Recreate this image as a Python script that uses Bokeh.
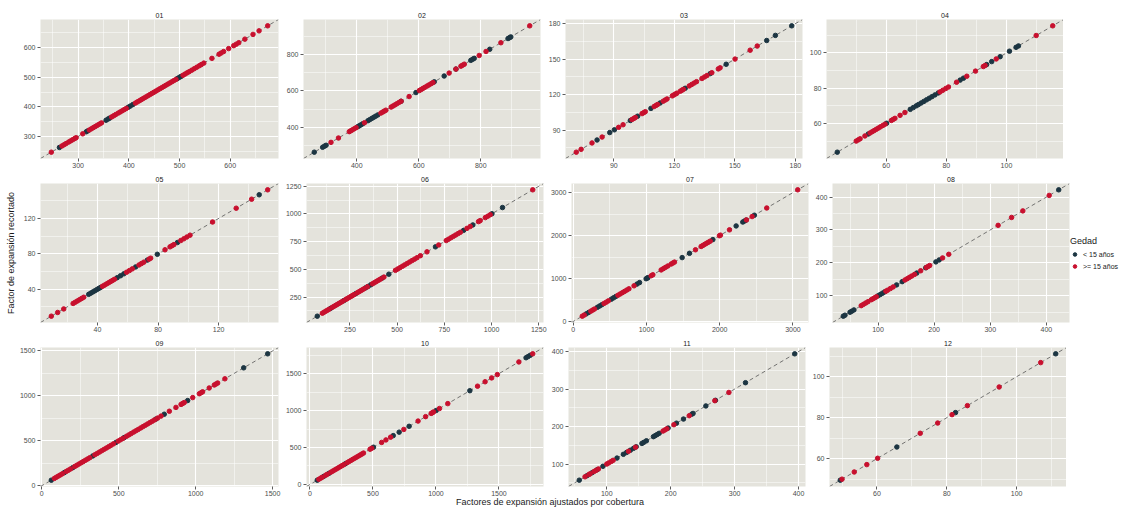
from bokeh.plotting import figure
from bokeh.models import Range1d, FixedTicker, Slope, Legend, LegendItem, Div
from bokeh.layouts import column, row
from bokeh.embed import file_html
from bokeh.resources import INLINE

# ---------------- data ----------------
panel_names = ["01", "02", "03", "04", "05", "06", "07", "08", "09", "10", "11", "12"]
group_labels = ["< 15 años", ">= 15 años"]
legend_title = "Gedad"
x_title = "Factores de expansión ajustados por cobertura"
y_title = "Factor de expansión recortado"

menor01 = [263, 316, 319, 355, 359, 362, 399, 403, 408, 496, 500, 503]
mayor01 = [247, 268, 272, 276, 281, 285, 289, 293, 296, 309, 322, 326, 330, 334, 338, 342, 346,
           366, 370, 374, 379, 383, 387, 391, 395, 413, 417, 421, 425, 429, 433, 437, 441, 445,
           449, 453, 457, 461, 465, 469, 473, 477, 481, 485, 489, 493, 507, 511, 515, 519, 524,
           529, 534, 539, 543, 548, 564, 578, 582, 587, 597, 607, 612, 617, 629, 645, 657, 674]
menor02 = [263, 290, 296, 301, 403, 408, 413, 419, 436, 442, 449, 455, 461, 468, 543, 591, 650,
           682, 720, 768, 774, 779, 829, 888, 893, 897]
mayor02 = [317, 341, 376, 381, 386, 392, 398, 425, 478, 484, 489, 494, 511, 517, 523, 529, 536,
           543, 569, 602, 608, 614, 620, 627, 633, 640, 646, 698, 720, 736, 741, 747, 795, 817,
           865, 958]
menor03 = [81.7, 88.0, 90.3, 98.2, 101.8, 108.4, 113.0, 125.4, 137.8, 145.7, 165.8, 170.1, 178.2]
mayor03 = [71.4, 73.8, 79.2, 84.2, 92.4, 94.6, 99.0, 99.9, 100.7, 104.0, 104.8, 105.6, 110.0,
           110.9, 111.7, 114.5, 115.5, 116.4, 119.0, 119.8, 120.6, 121.3, 123.0, 123.8, 124.5,
           127.4, 128.6, 129.8, 131.0, 133.7, 135.0, 136.2, 138.6, 141.8, 142.7, 150.1, 157.6, 161.1]
menor04 = [43.7, 54.0, 60.1, 68.0, 69.0, 70.0, 70.7, 71.6, 72.5, 73.4, 74.3, 75.2, 76.2, 77.3,
           84.6, 85.7, 93.4, 95.1, 97.9, 101.0, 103.2, 104.0]
mayor04 = [50.0, 50.7, 51.3, 52.9, 54.6, 55.3, 56.0, 56.7, 57.4, 58.1, 58.9, 59.6, 61.7, 62.3,
           62.9, 64.6, 66.2, 77.9, 78.8, 79.8, 80.7, 83.4, 86.8, 89.7, 92.3, 92.9, 96.6, 109.9, 115.4]
menor05 = [34.2, 35.5, 36.8, 38.1, 39.4, 40.7, 42.0, 53.0, 55.2, 57.4, 65.2, 72.9, 79.5, 92.8, 146.8]
mayor05 = [9.5, 13.7, 17.7, 23.9, 25.3, 26.7, 28.1, 29.5, 30.9, 43.3, 44.6, 46.0, 47.3, 48.6,
           49.9, 51.2, 59.2, 61.1, 63.0, 67.4, 69.0, 70.6, 74.0, 75.1, 84.6, 87.9, 89.2, 90.5,
           95.0, 97.0, 99.0, 101.1, 116.0, 131.6, 141.8, 152.4]
menor06 = [77, 148, 218, 280, 333, 346, 360, 421, 456, 703, 852, 901, 1002, 1058]
mayor06 = [104, 113, 122, 131, 140, 157, 166, 175, 184, 193, 202, 211, 227, 236, 245, 254, 263,
           272, 289, 298, 307, 316, 325, 342, 369, 378, 387, 396, 405, 413, 430, 491, 503, 515,
           528, 540, 553, 566, 579, 592, 605, 623, 658, 720, 760, 772, 785, 798, 810, 823, 835,
           870, 887, 931, 940, 967, 980, 993, 1218]
menor07 = [177, 210, 330, 360, 390, 520, 550, 580, 870, 905, 995, 1010, 1019, 1487, 1587, 1906,
           2224, 2315, 2340, 2360, 2473]
mayor07 = [123, 150, 240, 265, 290, 420, 450, 480, 610, 640, 670, 700, 730, 760, 830, 1064, 1087,
           1200, 1230, 1260, 1292, 1337, 1360, 1382, 1669, 1746, 1770, 1795, 1820, 1845, 1870,
           1996, 2010, 2133, 2365, 2442, 2642, 3065]
menor08 = [38, 41, 50, 53, 57, 100, 104, 108, 112, 133, 143, 169, 185, 203, 209, 422]
mayor08 = [70, 74, 78, 82, 88, 91, 94, 97, 114, 117, 122, 127, 148, 152, 156, 160, 165, 176, 186,
           189, 192, 215, 226, 314, 338, 358, 405]
menor09 = [62, 147, 201, 331, 482, 536, 742, 796, 948, 1312, 1468]
mayor09 = [82, 95, 108, 121, 134, 160, 173, 187, 214, 228, 242, 256, 270, 284, 298, 312, 345,
           360, 375, 390, 405, 420, 435, 450, 466, 497, 512, 527, 551, 566, 581, 597, 612, 627,
           643, 658, 673, 688, 703, 718, 733, 753, 775, 829, 872, 905, 915, 926, 981, 1024, 1035,
           1045, 1088, 1121, 1132, 1143, 1190]
menor10 = [58, 110, 150, 281, 504, 661, 708, 787, 1002, 1269, 1715, 1732, 1749]
mayor10 = [70, 85, 97, 125, 137, 165, 180, 195, 210, 225, 240, 255, 268, 295, 310, 325, 340, 355,
           370, 385, 400, 412, 425, 477, 490, 569, 603, 640, 745, 858, 918, 962, 972, 981, 1028,
           1094, 1330, 1390, 1442, 1487, 1658, 1768]
menor11 = [57, 69, 77, 85, 94, 116, 126, 131, 137, 142, 146, 155, 158, 162, 173, 176, 179, 182,
           196, 209, 220, 233, 235, 255, 270, 317, 394]
mayor11 = [66, 72, 74, 80, 83, 87, 100, 103, 107, 110, 134, 145, 188, 191, 194, 205, 229, 269, 291]
menor12 = [49.5, 65.7, 82.5, 111.2]
mayor12 = [50.0, 53.5, 57.1, 60.2, 72.4, 77.4, 81.5, 85.9, 95.0, 106.9]

ticks01 = [300, 400, 500, 600]
ticks02 = [400, 600, 800]
ticks03 = [90, 120, 150, 180]
ticks04 = [60, 80, 100]
ticks05 = [40, 80, 120]
ticks06 = [250, 500, 750, 1000, 1250]
ticks07 = [0, 1000, 2000, 3000]
ticks08 = [100, 200, 300, 400]
ticks09 = [0, 500, 1000, 1500]
ticks10 = [0, 500, 1000, 1500]
ticks11 = [100, 200, 300, 400]
ticks12 = [60, 80, 100]

menores = [menor01, menor02, menor03, menor04, menor05, menor06,
           menor07, menor08, menor09, menor10, menor11, menor12]
mayores = [mayor01, mayor02, mayor03, mayor04, mayor05, mayor06,
           mayor07, mayor08, mayor09, mayor10, mayor11, mayor12]
tick_sets = [ticks01, ticks02, ticks03, ticks04, ticks05, ticks06,
             ticks07, ticks08, ticks09, ticks10, ticks11, ticks12]

# ---------------- styling ----------------
FONT = "Liberation Sans"
PANEL_BG = "#E4E3DC"
COL_MENOR = "#1C3542"
COL_MAYOR = "#C8102E"
TXT = "#1A1A1A"
TICK_TXT = "#4D4D4D"

col_left = [40, 21, 21, 17]
col_right = [4, 4, 4, 0]
col_fw = [238, 237, 237, 237]
row_top = [19, 13, 13]
FH = 139


def minor_of(ticks):
    step = ticks[1] - ticks[0]
    return [t - step / 2 for t in ticks] + [ticks[-1] + step / 2]


figs = []
for i, name in enumerate(panel_names):
    r, c = divmod(i, 4)
    men, may, ticks = menores[i], mayores[i], tick_sets[i]
    allv = men + may
    lo, hi = min(allv), max(allv)
    pad = 0.05 * (hi - lo)
    p = figure(frame_width=col_fw[c], frame_height=FH,
               x_range=Range1d(lo - pad, hi + pad), y_range=Range1d(lo - pad, hi + pad),
               output_backend="svg", toolbar_location=None,
               min_border_left=col_left[c], min_border_right=col_right[c],
               min_border_top=row_top[r], min_border_bottom=12, title=name)
    p.background_fill_color = PANEL_BG
    p.border_fill_color = "white"
    p.outline_line_color = None
    p.title.align = "center"
    p.title.text_font = FONT
    p.title.text_font_size = "7px"
    p.title.text_font_style = "normal"
    p.title.text_color = TXT
    p.title.standoff = 3

    tk = FixedTicker(ticks=ticks, minor_ticks=minor_of(ticks))
    for ax in (p.xaxis[0], p.yaxis[0]):
        ax.ticker = tk
        ax.axis_line_color = None
        ax.major_tick_line_color = "#333333"
        ax.major_tick_line_width = 0.8
        ax.major_tick_out = 3
        ax.major_tick_in = 0
        ax.minor_tick_out = 0
        ax.minor_tick_in = 0
        ax.major_label_text_font = FONT
        ax.major_label_text_font_size = "7px"
        ax.major_label_text_color = TICK_TXT
    p.xaxis.major_label_standoff = 1
    p.yaxis.major_label_standoff = 2

    for g in (p.xgrid[0], p.ygrid[0]):
        g.grid_line_color = "white"
        g.grid_line_width = 1.1
        g.minor_grid_line_color = "white"
        g.minor_grid_line_width = 0.5

    p.add_layout(Slope(gradient=1, y_intercept=0, line_color="#555555",
                       line_dash="4 3", line_width=0.8, level="underlay"))

    r1 = p.scatter(x=men, y=men, size=4.5, fill_color=COL_MENOR, line_color=COL_MENOR)
    r2 = p.scatter(x=may, y=may, size=4.5, fill_color=COL_MAYOR, line_color=COL_MAYOR)

    if r == 1 and c == 0:
        p.yaxis.axis_label = y_title
        p.yaxis.axis_label_text_font = FONT
        p.yaxis.axis_label_text_font_size = "9px"
        p.yaxis.axis_label_text_font_style = "normal"
        p.yaxis.axis_label_text_color = TXT
        p.yaxis.axis_label_standoff = 5

    if r == 1 and c == 3:
        legend = Legend(items=[LegendItem(label=group_labels[0], renderers=[r1]),
                               LegendItem(label=group_labels[1], renderers=[r2])],
                        title=legend_title, location="center_left")
        legend.title_text_font = FONT
        legend.title_text_font_size = "9px"
        legend.title_text_font_style = "normal"
        legend.title_text_color = TXT
        legend.label_text_font = FONT
        legend.label_text_font_size = "7px"
        legend.label_text_color = TXT
        legend.glyph_width = 9
        legend.glyph_height = 9
        legend.spacing = 3
        legend.padding = 1
        legend.margin = 1
        legend.label_standoff = 4
        legend.title_standoff = 4
        legend.background_fill_alpha = 0
        legend.border_line_color = None
        p.add_layout(legend, "right")

    figs.append(p)

xdiv = Div(text=x_title, width=1100, height=9, margin=0,
           styles={"font-size": "9px", "font-family": FONT, "color": TXT,
                   "text-align": "center", "line-height": "9px"})

layout = column(row(*figs[0:4]), row(*figs[4:8]), row(*figs[8:12]), xdiv)

open("out.html", "w").write(file_html(layout, INLINE))
